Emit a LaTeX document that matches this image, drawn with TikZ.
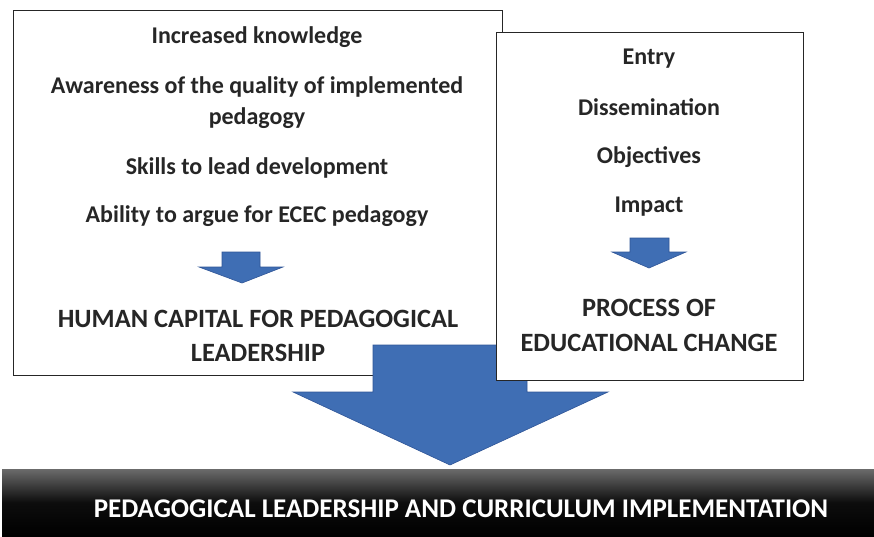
\documentclass[tikz,border=0pt]{standalone}
\usepackage{fontspec}
\setmainfont{Carlito}
\begin{document}
\begin{tikzpicture}[x=1pt,y=-1pt,
  box/.style={draw=black!85,line width=0.8pt,fill=white},
  txt/.style={font=\bfseries\fontsize{24}{28}\selectfont,text=black!85,inner sep=0pt,anchor=center},
  big/.style={font=\bfseries\fontsize{26.4}{30}\selectfont,text=black!85,inner sep=0pt,anchor=center},
  barrow/.style={fill={rgb,255:red,63;green,110;blue,180},draw={rgb,255:red,47;green,85;blue,151},line width=0.6pt}]
\useasboundingbox (0,0) rectangle (874,536);
% left box
\draw[box] (13,10) rectangle (502,375);
\node[txt] (l1) at (257,37) {Increased knowledge};
\node[txt] (l2) at (257,87) {Awareness of the quality of implemented};
\node[txt] (l3) at (257,118) {pedagogy};
\node[txt] (l4) at (257,168) {Skills to lead development};
\node[txt] (l5) at (257,216) {Ability to argue for ECEC pedagogy};
\draw[barrow] (222,252) -- (260,252) -- (260,267) -- (283,267) -- (242,283) -- (199,267) -- (222,267) -- cycle;
\node[big] (l6) at (258,319) {HUMAN CAPITAL FOR PEDAGOGICAL};
\node[big] (l7) at (258,353) {LEADERSHIP};
% big arrow
\draw[barrow] (373,345) -- (527,345) -- (527,392) -- (608,392) -- (450,465) -- (293,392) -- (373,392) -- cycle;
% right box
\draw[box] (496,32) rectangle (803,380);
\node[txt] (r1) at (649,59) {Entry};
\node[txt] (r2) at (649,107) {Dissemination};
\node[txt] (r3) at (649,157) {Objectives};
\node[txt] (r4) at (649,207) {Impact};
\draw[barrow] (630,238) -- (669,238) -- (669,252) -- (686,252) -- (649,268) -- (612,252) -- (630,252) -- cycle;
\node[big] (r5) at (649,308) {PROCESS OF};
\node[big] (r6) at (649,343) {EDUCATIONAL CHANGE};
% bottom bar
\shade[top color=black!58,bottom color=black,middle color=black!95] (2,469) rectangle (874,536);
\node[font=\bfseries\fontsize{27}{31}\selectfont,text=white,inner sep=0pt] (b) at (461,509) {PEDAGOGICAL LEADERSHIP AND CURRICULUM IMPLEMENTATION};
\end{tikzpicture}
\end{document}
